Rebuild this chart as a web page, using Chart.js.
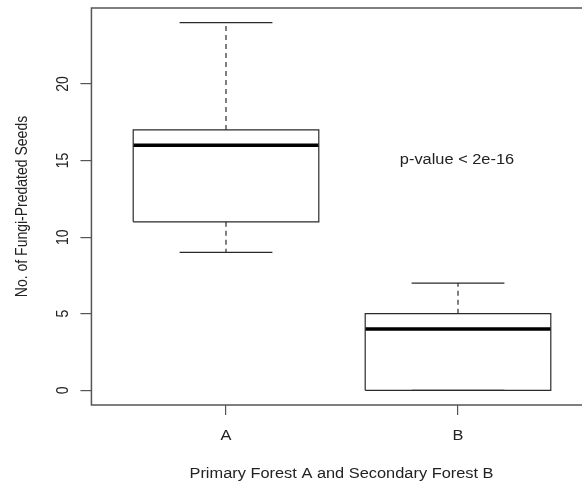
<!DOCTYPE html>
<html>
<head>
<meta charset="utf-8">
<script src="https://cdn.jsdelivr.net/npm/chart.js@4"></script>
<style>
  html, body { margin: 0; padding: 0; background: #fff; overflow: hidden; }
  #wrap { width: 582px; height: 485px; overflow: hidden; position: relative; }
  canvas { display: block; }
</style>
</head>
<body>
<div id="wrap"><canvas id="c" width="620" height="485"></canvas></div>
<script>
// ---- data ----
const categories   = ['A', 'B'];
const positions    = [1, 2];
const whiskerLow   = [9, 0];
const q1           = [11, 0];
const median       = [16, 4];
const q3           = [17, 5];
const whiskerHigh  = [24, 7];
const yTicks       = [0, 5, 10, 15, 20];
const yTitle       = 'No. of Fungi-Predated Seeds';
const xTitle       = 'Primary Forest A and Secondary Forest B';
const noteText     = 'p-value < 2e-16';
const notePos      = { x: 2, y: 15 };

// ---- styling ----
const BOX_HALF = 0.4, CAP_HALF = 0.2;
const LINE = '#2a2a2a', AXIS = '#555';
const FONT = '14px "Liberation Sans", Arial, sans-serif';
const STRETCH = 1.17;

// build line datasets from the arrays
const datasets = [];
positions.forEach((p, i) => {
  // box outline
  datasets.push({
    data: [
      {x: p - BOX_HALF, y: q1[i]}, {x: p + BOX_HALF, y: q1[i]},
      {x: p + BOX_HALF, y: q3[i]}, {x: p - BOX_HALF, y: q3[i]},
      {x: p - BOX_HALF, y: q1[i]}
    ],
    borderColor: LINE, borderWidth: 1.2
  });
  // median
  datasets.push({
    data: [{x: p - BOX_HALF, y: median[i]}, {x: p + BOX_HALF, y: median[i]}],
    borderColor: '#000', borderWidth: 3.5
  });
  // whiskers (dashed)
  datasets.push({
    data: [{x: p, y: q3[i]}, {x: p, y: whiskerHigh[i]}],
    borderColor: LINE, borderWidth: 1.2, borderDash: [5, 4]
  });
  datasets.push({
    data: [{x: p, y: q1[i]}, {x: p, y: whiskerLow[i]}],
    borderColor: LINE, borderWidth: 1.2, borderDash: [5, 4]
  });
  // caps
  datasets.push({
    data: [{x: p - CAP_HALF, y: whiskerHigh[i]}, {x: p + CAP_HALF, y: whiskerHigh[i]}],
    borderColor: LINE, borderWidth: 1.2
  });
  datasets.push({
    data: [{x: p - CAP_HALF, y: whiskerLow[i]}, {x: p + CAP_HALF, y: whiskerLow[i]}],
    borderColor: LINE, borderWidth: 1.2
  });
});
datasets.forEach(d => { d.pointRadius = 0; d.tension = 0; d.fill = false; });

function stretchedText(ctx, text, x, y, rotate) {
  ctx.save();
  ctx.translate(x, y);
  ctx.scale(STRETCH, 1);
  if (rotate) ctx.rotate(-Math.PI / 2);
  ctx.textAlign = 'center';
  ctx.textBaseline = 'alphabetic';
  ctx.fillText(text, 0, 0);
  ctx.restore();
}

const textPlugin = {
  id: 'rtext',
  afterDraw(chart) {
    const ctx = chart.ctx, xs = chart.scales.x, ys = chart.scales.y, a = chart.chartArea;
    // frame
    ctx.save();
    ctx.strokeStyle = AXIS;
    ctx.lineWidth = 1.5;
    ctx.strokeRect(a.left, a.top, a.right - a.left, a.bottom - a.top);
    ctx.restore();

    ctx.save();
    ctx.font = FONT;
    ctx.fillStyle = '#222';
    // y tick labels (rotated, parallel to axis)
    yTicks.forEach(v => stretchedText(ctx, String(v), 67.5, ys.getPixelForValue(v), true));
    // x tick labels
    positions.forEach((p, i) => stretchedText(ctx, categories[i], xs.getPixelForValue(p), 440, false));
    // axis titles
    stretchedText(ctx, xTitle, 341.5, 478, false);
    stretchedText(ctx, yTitle, 27, (a.top + a.bottom) / 2, true);
    // annotation
    stretchedText(ctx, noteText, xs.getPixelForValue(notePos.x) - 1, ys.getPixelForValue(notePos.y) + 3, false);
    ctx.restore();
  }
};

new Chart(document.getElementById('c'), {
  type: 'line',
  data: { datasets },
  plugins: [textPlugin],
  options: {
    responsive: false,
    animation: false,
    events: [],
    layout: { padding: { top: 8, right: 620 - 592.56, left: 0, bottom: 0 } },
    plugins: { legend: { display: false }, tooltip: { enabled: false } },
    scales: {
      x: {
        type: 'linear',
        min: 0.42, max: 2.58,
        afterBuildTicks: s => { s.ticks = positions.map(v => ({ value: v })); },
        afterFit: s => { s.height = 80; },
        ticks: { display: false },
        grid: { drawOnChartArea: false, drawTicks: true, tickLength: 10, color: AXIS, lineWidth: 1.2 },
        border: { display: false }
      },
      y: {
        type: 'linear',
        min: -0.96, max: 24.96,
        afterBuildTicks: s => { s.ticks = yTicks.map(v => ({ value: v })); },
        afterFit: s => { s.width = 91.44; },
        ticks: { display: false },
        grid: { drawOnChartArea: false, drawTicks: true, tickLength: 11, color: AXIS, lineWidth: 1.2 },
        border: { display: false }
      }
    }
  }
});
</script>
</body>
</html>
